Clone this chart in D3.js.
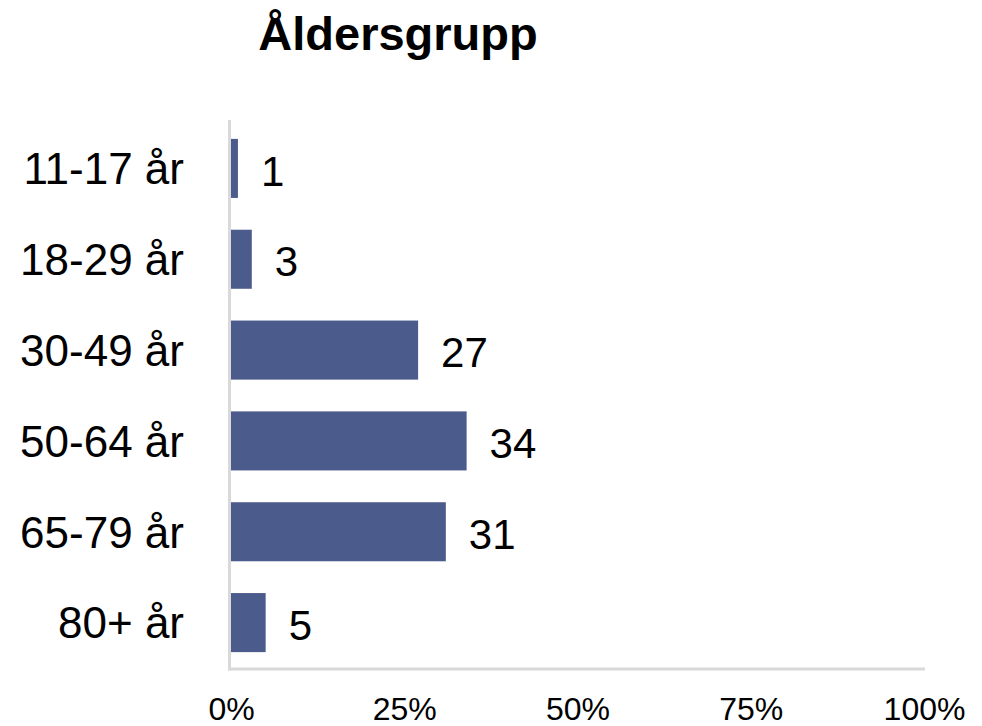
<!DOCTYPE html>
<html>
<head>
<meta charset="utf-8">
<script src="https://cdn.jsdelivr.net/npm/d3@7"></script>
<style>
  body { margin: 0; background: #fff; }
  svg text { font-family: "Liberation Sans", Arial, sans-serif; fill: #000; }
</style>
</head>
<body>
<svg id="chart" width="982" height="726"></svg>
<script>
var title = "Åldersgrupp";
var categories = ["11-17 år", "18-29 år", "30-49 år", "50-64 år", "65-79 år", "80+ år"];
var values = [1, 3, 27, 34, 31, 5];
var tickValues = [0, 25, 50, 75, 100];

var svg = d3.select("#chart");

// scales
var x = d3.scaleLinear()
    .domain([0, 100])
    .range([231, 924]);

var y = d3.scaleBand()
    .domain(categories)
    .range([123, 668])
    .paddingInner(0.35)
    .paddingOuter(0.175);

// title
svg.append("text")
    .attr("x", 398)
    .attr("y", 50)
    .attr("text-anchor", "middle")
    .style("font-size", "47px")
    .style("font-weight", "bold")
    .text(title);

// bars
svg.selectAll("rect.bar")
  .data(values)
  .enter().append("rect")
    .attr("class", "bar")
    .attr("x", x(0))
    .attr("y", function(d, i) { return y(categories[i]); })
    .attr("width", function(d) { return x(d) - x(0); })
    .attr("height", y.bandwidth())
    .style("fill", "#4b5b8c");

// value labels
svg.selectAll("text.val")
  .data(values)
  .enter().append("text")
    .attr("class", "val")
    .attr("x", function(d) { return x(d) + 23; })
    .attr("y", function(d, i) { return y(categories[i]) + y.bandwidth() / 2 + 2; })
    .attr("dy", "0.36em")
    .style("font-size", "42px")
    .text(function(d) { return d; });

// category axis
var yAxis = svg.append("g")
    .attr("transform", "translate(230,0)")
    .call(d3.axisLeft(y).tickSize(0).tickPadding(46));
yAxis.select(".domain").remove();
yAxis.selectAll("text")
    .attr("dy", "0.36em")
    .style("font-size", "44px")
    .style("font-family", "\"Liberation Sans\", Arial, sans-serif")
    .attr("fill", "#000");

// percent axis
var xAxis = svg.append("g")
    .attr("transform", "translate(0,669)")
    .call(d3.axisBottom(x).tickValues(tickValues).tickSize(0).tickPadding(28)
      .tickFormat(function(d) { return d + "%"; }));
xAxis.select(".domain").remove();
xAxis.selectAll("text")
    .style("font-size", "32px")
    .style("font-family", "\"Liberation Sans\", Arial, sans-serif")
    .attr("fill", "#000");

// axis lines
svg.append("line")
    .attr("x1", 229.5).attr("x2", 229.5)
    .attr("y1", 120).attr("y2", 670.5)
    .style("stroke", "#d9d9d9")
    .style("stroke-width", 3);
svg.append("line")
    .attr("x1", 228).attr("x2", 925)
    .attr("y1", 669).attr("y2", 669)
    .style("stroke", "#d9d9d9")
    .style("stroke-width", 3);
</script>
</body>
</html>
